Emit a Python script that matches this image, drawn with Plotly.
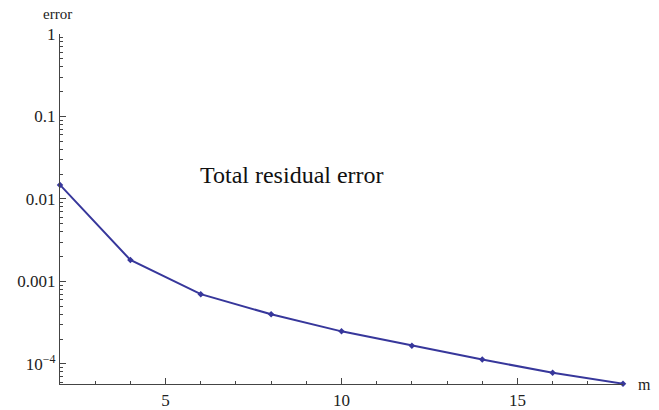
import plotly.graph_objects as go

m_values = [2, 4, 6, 8, 10, 12, 14, 16, 18]
residual_error = [0.0148, 0.00182, 0.00070, 0.00040, 0.000248, 0.000166, 0.000113, 0.000078, 0.0000575]

y_tickvals = [1e-4, 1e-3, 1e-2, 1e-1, 1]
y_ticktext = ["10<sup>\u22124</sup>", "0.001", "0.01", "0.1", "1"]
x_tickvals = [5, 10, 15]

serif = "Liberation Serif"
line_color = "rgb(55,55,155)"
axis_color = "#444444"

fig = go.Figure()
fig.add_trace(go.Scatter(
    x=m_values, y=residual_error, mode="lines+markers",
    line=dict(color=line_color, width=2),
    marker=dict(color=line_color, size=5, symbol="diamond"),
    showlegend=False, cliponaxis=False,
))

fig.update_layout(
    width=659, height=410,
    margin=dict(l=60, r=36, t=34, b=26),
    plot_bgcolor="white", paper_bgcolor="white",
    font=dict(family=serif, size=17, color="#222222"),
    xaxis=dict(
        range=[2, 18], showgrid=False, zeroline=False, automargin=False,
        showline=True, linecolor=axis_color, linewidth=1.2,
        ticks="inside", ticklen=6, tickwidth=1, tickcolor=axis_color,
        tickvals=x_tickvals, ticktext=[str(v) for v in x_tickvals],
        minor=dict(ticks="inside", ticklen=3, tickwidth=1, tickcolor=axis_color, dtick=1, showgrid=False),
        tickfont=dict(family=serif, size=17, color="#222222"),
    ),
    yaxis=dict(
        type="log", range=[-4.244, 0], showgrid=False, zeroline=False, automargin=False,
        showline=True, linecolor=axis_color, linewidth=1.2,
        ticks="inside", ticklen=6, tickwidth=1, tickcolor=axis_color,
        tickvals=y_tickvals, ticktext=y_ticktext,
        minor=dict(ticks="inside", ticklen=3, tickwidth=1, tickcolor=axis_color, dtick="D1", showgrid=False),
        tickfont=dict(family=serif, size=17, color="#222222"),
    ),
    annotations=[
        dict(text="Total residual error", x=8.58, y=-1.709, xref="x", yref="y",
             showarrow=False, font=dict(family=serif, size=24, color="#111111"),
             xanchor="center", yanchor="middle"),
        dict(text="error", x=-0.005, y=1.057, xref="paper", yref="paper",
             showarrow=False, font=dict(family=serif, size=15, color="#222222"),
             xanchor="center", yanchor="middle"),
        dict(text="m", x=1.039, y=0.0, xref="paper", yref="paper",
             showarrow=False, font=dict(family=serif, size=16, color="#222222"),
             xanchor="center", yanchor="middle"),
    ],
)

fig.write_html("out.html")
